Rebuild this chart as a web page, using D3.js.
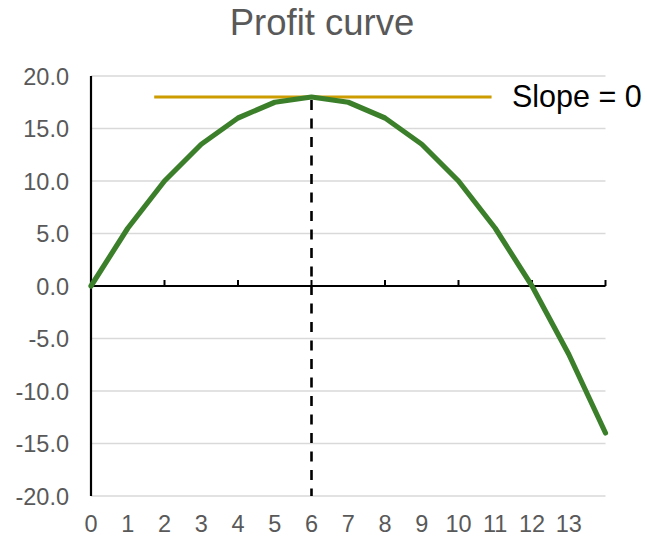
<!DOCTYPE html>
<html><head><meta charset="utf-8">
<script src="https://cdn.jsdelivr.net/npm/d3@7"></script>
<style>body{margin:0;background:#fff}svg{display:block;font-family:Arial,"Liberation Sans",sans-serif}</style>
</head><body><svg id="c" width="647" height="537"></svg>
<script>
const xValues = [0,1,2,3,4,5,6,7,8,9,10,11,12,13,14];
const profit = [0,5.5,10,13.5,16,17.5,18,17.5,16,13.5,10,5.5,0,-6.5,-14];
const xLabels = [0,1,2,3,4,5,6,7,8,9,10,11,12,13];
const yTicks = [-20,-15,-10,-5,0,5,10,15,20];
const xTickMarks = [2,4,6,8,10,12,14];
const slopeX = [1.72, 10.9];
const slopeY = 18;
const peakX = 6;

const svg = d3.select("#c");
const x = d3.scaleLinear().domain([0,14]).range([91,605.5]);
const y = d3.scaleLinear().domain([-20,20]).range([496,76]);

svg.append("text").attr("x",322).attr("y",35).attr("text-anchor","middle")
  .attr("font-size",36.5).attr("fill","#595959").text("Profit curve");

// gridlines
svg.append("g").selectAll("line").data(yTicks).join("line")
  .attr("x1",x(0)).attr("x2",x(14)).attr("y1",d=>y(d)).attr("y2",d=>y(d))
  .attr("stroke","#d9d9d9").attr("stroke-width",1.3);

// y labels
svg.append("g").selectAll("text").data(yTicks).join("text")
  .attr("x",69).attr("y",d=>y(d)+8.5).attr("text-anchor","end")
  .attr("font-size",23.5).attr("fill","#595959").text(d=>d.toFixed(1));

// x labels
svg.append("g").selectAll("text").data(xLabels).join("text")
  .attr("x",d=>x(d)).attr("y",532).attr("text-anchor","middle")
  .attr("font-size",23.5).attr("fill","#595959").text(d=>d);

// y axis line
svg.append("line").attr("x1",x(0)).attr("x2",x(0)).attr("y1",y(20)).attr("y2",y(-20))
  .attr("stroke","#000").attr("stroke-width",2.2);

// x axis at 0
svg.append("line").attr("x1",x(0)).attr("x2",x(14)).attr("y1",y(0)).attr("y2",y(0))
  .attr("stroke","#000").attr("stroke-width",2.2);
svg.append("g").selectAll("line").data(xTickMarks).join("line")
  .attr("x1",d=>x(d)).attr("x2",d=>x(d)).attr("y1",y(0)).attr("y2",y(0)-6)
  .attr("stroke","#000").attr("stroke-width",2);

// dashed vertical
svg.append("line").attr("x1",x(peakX)).attr("x2",x(peakX)).attr("y1",y(slopeY)+3).attr("y2",y(-20))
  .attr("stroke","#000").attr("stroke-width",2.6).attr("stroke-dasharray","10,8.5");

// slope line
svg.append("line").attr("x1",x(slopeX[0])).attr("x2",x(slopeX[1])).attr("y1",y(slopeY)).attr("y2",y(slopeY))
  .attr("stroke","#cc9c00").attr("stroke-width",3);

// curve
const line = d3.line().x((d,i)=>x(xValues[i])).y(d=>y(d));
svg.append("path").datum(profit).attr("d",line).attr("fill","none")
  .attr("stroke","#3b7f2b").attr("stroke-width",5.2).attr("stroke-linejoin","round").attr("stroke-linecap","round");

svg.append("text").attr("x",512).attr("y",107).attr("font-size",30.5).attr("fill","#000").text("Slope = 0");
</script></body></html>
